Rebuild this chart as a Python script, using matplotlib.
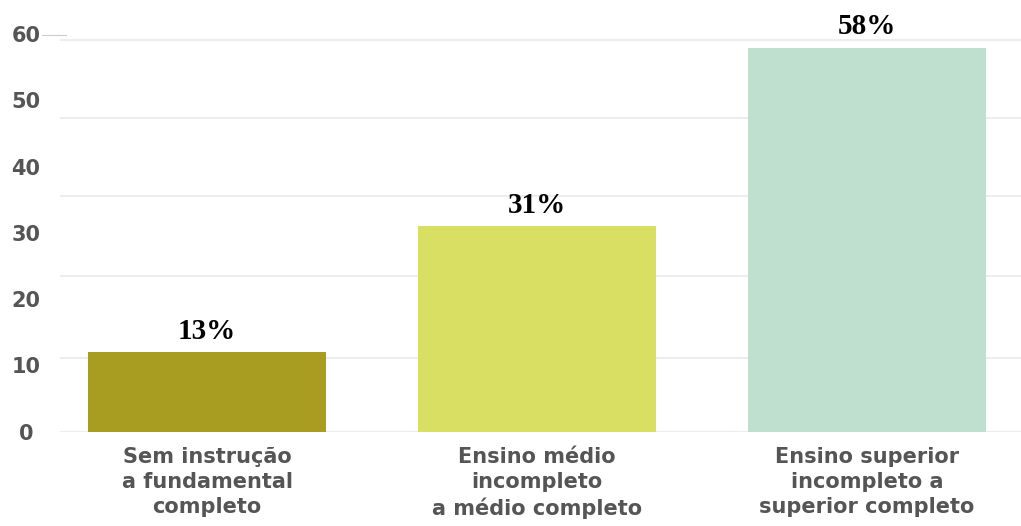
"""Bar chart: share by schooling level."""

import matplotlib.pyplot as plt
from matplotlib.lines import Line2D

# Data.
categories = ["Sem instrução\na fundamental\ncompleto",
              "Ensino médio\nincompleto\na médio completo",
              "Ensino superior\nincompleto a\nsuperior completo"]
bar_values = [12, 31, 58]
value_labels = ["13%", "31%", "58%"]
y_ticks = [0, 10, 20, 30, 40, 50, 60]
grid_levels = [0, 11.1, 23.5, 35.5, 47.4, 59.2]

colors = ["#a89d20", "#d9df62", "#bfe0ce"]
grey = "#555555"

W, H = 1021, 526
fig = plt.figure(figsize=(W / 100, H / 100), dpi=100)

# Axes placed in pixel units: x from 60 to 1021, y zero at 431.5 px.
px_per_unit = 6.62
y_top = 62
ax_h = y_top * px_per_unit
ax = fig.add_axes([60 / W, (H - 431.5) / H, (W - 60) / W, ax_h / H])

x = range(len(categories))
ax.bar(x, bar_values, width=0.7212, color=colors, zorder=2)

for lv in grid_levels:
    ax.axhline(lv, color="#ececec", lw=1.3, zorder=1)

for xi, v, s in zip(x, bar_values, value_labels):
    ax.annotate(s, (xi, v), xytext=(0, 9.7), textcoords="offset points",
                ha="center", va="baseline", fontsize=21, fontweight="bold",
                family="Liberation Serif", color="black")

ax.set_xlim(-0.4455, 2.4667)
ax.set_ylim(0, y_top)

ax.set_xticks(list(x))
ax.set_xticklabels(categories, fontsize=15, fontweight="bold", color=grey,
                   linespacing=1.33)
ax.set_yticks(y_ticks)
ax.set_yticklabels([str(t) for t in y_ticks], fontsize=15, fontweight="bold",
                   color=grey)
for t in ax.get_yticklabels():
    t.set_ha("center")
ax.tick_params(axis="y", length=0, pad=24.5)
ax.tick_params(axis="x", length=0, pad=11)

for sp in ax.spines.values():
    sp.set_visible(False)

# Small stray rule next to the top label.
fig.add_artist(Line2D([42 / W, 66 / W], [1 - 35.3 / H] * 2, color="#cccccc", lw=0.8))

plt.savefig("out.png", dpi=100)
